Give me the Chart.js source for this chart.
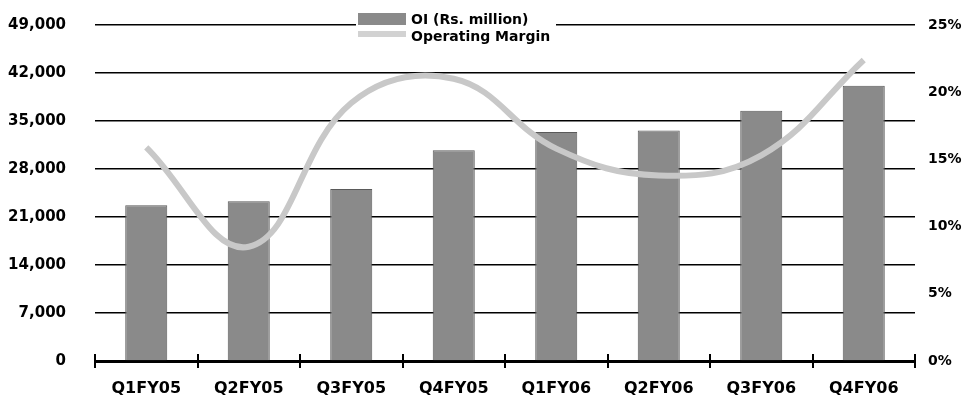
<!DOCTYPE html>
<html>
<head>
<meta charset="utf-8">
<script src="https://cdn.jsdelivr.net/npm/chart.js@4/dist/chart.umd.min.js"></script>
<style>
  html, body { margin: 0; padding: 0; background: #fff; }
  #wrap { width: 967px; height: 406px; }
</style>
</head>
<body>
<div id="wrap"><canvas id="c" width="967" height="406"></canvas></div>
<script>
// Quarterly operating income and operating margin
const quarters = ['Q1FY05', 'Q2FY05', 'Q3FY05', 'Q4FY05', 'Q1FY06', 'Q2FY06', 'Q3FY06', 'Q4FY06'];
const operatingIncome = [22700, 23300, 25100, 30750, 33400, 33600, 36500, 40150];
const operatingMargin = [15.9, 8.5, 19.2, 21.0, 15.8, 13.8, 15.3, 22.4];
const incomeTicks = [0, 7000, 14000, 21000, 28000, 35000, 42000, 49000];
const marginTicks = [0, 5, 10, 15, 20, 25];

const FONT = '"DejaVu Sans", "Liberation Sans", Arial, sans-serif';

// Tick marks crossing the category axis at each category boundary
const axisTicks = {
  id: 'axisTicks',
  afterDatasetsDraw(chart) {
    const x = chart.scales.x, y = chart.scales.y;
    const ctx = chart.ctx;
    const y0 = y.getPixelForValue(0);
    const half = (x.getPixelForValue(1) - x.getPixelForValue(0)) / 2;
    ctx.save();
    ctx.strokeStyle = '#000';
    ctx.lineWidth = 2;
    for (let i = 0; i <= quarters.length; i++) {
      const px = Math.round(x.getPixelForValue(i) - half);
      ctx.beginPath();
      ctx.moveTo(px, y0 - 7);
      ctx.lineTo(px, y0 + 7);
      ctx.stroke();
    }
    ctx.restore();
  }
};

// Two-row legend at the top of the plot
const stackedLegend = {
  id: 'stackedLegend',
  afterDraw(chart) {
    const ctx = chart.ctx;
    const ds = chart.data.datasets;
    const rows = [
      { label: ds[1].label, color: '#8a8a8a', top: 13, h: 12, text: 20 },
      { label: ds[0].label, color: '#d2d2d2', top: 31, h: 6, text: 37 }
    ];
    ctx.save();
    ctx.font = 'bold 14px ' + FONT;
    ctx.textBaseline = 'middle';
    rows.forEach(r => {
      ctx.fillStyle = '#fff';
      ctx.fillRect(356, r.text - 8, 200, 16);
    });
    rows.forEach(r => {
      ctx.fillStyle = r.color;
      ctx.fillRect(358, r.top, 48, r.h);
      ctx.fillStyle = '#000';
      ctx.fillText(r.label, 411, r.text);
    });
    ctx.restore();
  }
};

// Keep the value axes from reserving extra room above and below the plot
function fitVertical(width) {
  return s => {
    s.width = width;
    s.paddingTop = 0;
    s.paddingBottom = 0;
  };
}

new Chart(document.getElementById('c'), {
  data: {
    labels: quarters,
    datasets: [
      {
        type: 'line',
        label: 'Operating Margin',
        data: operatingMargin,
        yAxisID: 'y2',
        borderColor: '#c8c8c8',
        borderWidth: 6,
        pointRadius: 0,
        tension: 0.4,
        fill: false,
        order: 1
      },
      {
        type: 'bar',
        label: 'OI (Rs. million)',
        data: operatingIncome,
        yAxisID: 'y',
        backgroundColor: '#8a8a8a',
        borderColor: '#5a5a5a',
        borderWidth: 1,
        categoryPercentage: 1,
        barPercentage: 0.41,
        order: 2
      }
    ]
  },
  options: {
    responsive: false,
    animation: false,
    devicePixelRatio: 1,
    layout: { padding: { top: 25, right: 0, bottom: 0, left: 0 } },
    plugins: { legend: { display: false }, tooltip: { enabled: false } },
    scales: {
      x: {
        offset: true,
        grid: { display: false, drawTicks: false },
        border: { display: true, color: '#000', width: 3 },
        ticks: { color: '#000', font: { family: FONT, size: 16, weight: 'bold' }, padding: 18, maxRotation: 0 },
        afterFit(s) { s.height = 45; }
      },
      y: {
        position: 'left',
        min: 0,
        max: 49000,
        afterBuildTicks(s) { s.ticks = incomeTicks.map(v => ({ value: v })); },
        grid: { color: '#000', lineWidth: 1.5, drawTicks: false },
        border: { display: false },
        ticks: {
          color: '#000',
          padding: 29,
          font: { family: FONT, size: 15, weight: 'bold' },
          callback: v => v.toLocaleString('en-US')
        },
        afterFit: fitVertical(95)
      },
      y2: {
        position: 'right',
        min: 0,
        max: 25,
        afterBuildTicks(s) { s.ticks = marginTicks.map(v => ({ value: v })); },
        grid: { display: false, drawTicks: false },
        border: { display: false },
        ticks: {
          color: '#000',
          padding: 13,
          font: { family: FONT, size: 14, weight: 'bold' },
          callback: v => v + '%'
        },
        afterFit: fitVertical(52)
      }
    }
  },
  plugins: [axisTicks, stackedLegend]
});
</script>
</body>
</html>
